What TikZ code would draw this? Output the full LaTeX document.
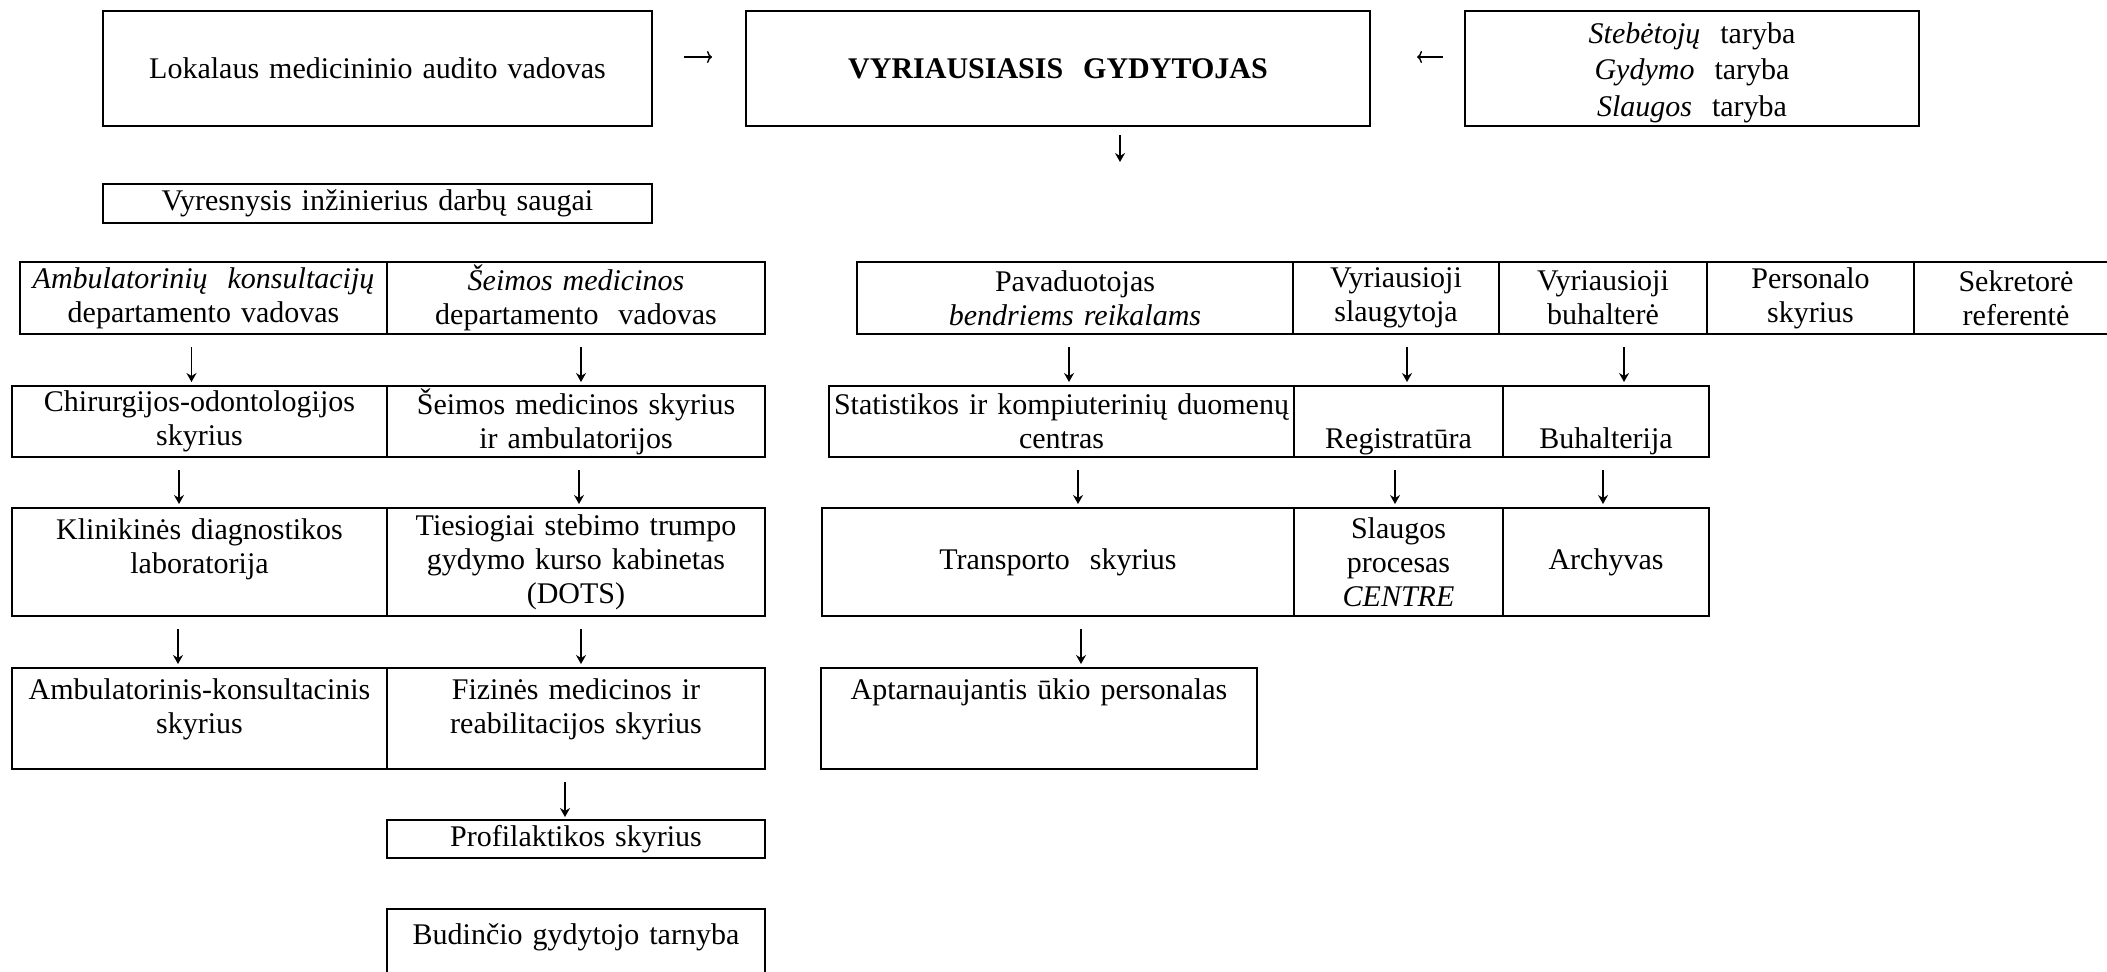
\documentclass[tikz,border=0pt]{standalone}
\usepackage{fontspec}
\setmainfont{Liberation Serif}
\usetikzlibrary{arrows.meta}
\tikzset{
	cell/.style={draw, line width=1pt, inner sep=0pt, align=center, anchor=north west,
		font=\fontsize{15pt}{17pt}\selectfont},
	topcell/.style={text height=#1},
	arr/.style={-{Stealth[length=4.5pt,width=5pt,inset=1.5pt]}, line width=0.8pt,
		shorten <=6pt, shorten >=1.5pt},
	harr/.style={-{To[length=2.5pt,width=6pt]}, line width=0.7pt},
}

\begin{document}
\begin{tikzpicture}[x=0.5pt, y=-0.5pt]
		\useasboundingbox (0,0) rectangle (2107,971);
		\begin{scope}
			\node[cell, text width=274.5pt, minimum height=57.5pt] (lok) at (102,10) {Lokalaus medicininio audito vadovas};
			\node[cell, text width=312pt, minimum height=57.5pt] (vyr) at (745,10) {\textbf{VYRIAUSIASIS\ \ GYDYTOJAS}};
			\node[cell, text width=227pt, topcell=16pt, text depth=41.5pt, font=\fontsize{15pt}{18.25pt}\selectfont] (tar) at (1464,10) {\textit{Stebėtojų}\ \ taryba\\ \textit{Gydymo}\ \ taryba\\ \textit{Slaugos}\ \ taryba};
			\node[cell, text width=274.5pt, minimum height=19.5pt] (vyrs) at (102,183) {Vyresnysis inžinierius darbų saugai};
	
			\draw[harr, shorten <=15.5pt, shorten >=16.5pt] ([yshift=5.75pt]lok.east) to ([yshift=5.75pt]vyr.west);
			\draw[harr, shorten <=10.5pt, shorten >=23pt] ([yshift=5.75pt]tar.west) to ([yshift=5.75pt]vyr.east);
			\coordinate (vyrdn) at ([xshift=31pt,yshift=-17.5pt]vyr.south);
			\draw[arr, shorten <=4pt, shorten >=0pt] ([xshift=31pt]vyr.south) to (vyrdn);
		
			\node[cell, text width=183.5pt, minimum height=36pt] (amb) at (19,261) {\textit{Ambulatorinių\ \ konsultacijų}\\ departamento vadovas};
			\node[cell, text width=189pt, minimum height=36pt] (sei) at (386,261) {\textit{Šeimos medicinos}\\ departamento\ \ vadovas};
			\node[cell, text width=187.5pt, minimum height=35.5pt] (chir) at (11,385) {Chirurgijos-odontologijos\\ skyrius};
			\node[cell, text width=189pt, minimum height=35.5pt] (sms) at (386,385) {Šeimos medicinos skyrius\\ ir ambulatorijos};
			\node[cell, text width=187.5pt, topcell=15.5pt, text depth=38.5pt] (klin) at (11,507) {Klinikinės diagnostikos\\ laboratorija};
			\node[cell, text width=189pt, minimum height=54pt] (dots) at (386,507) {Tiesiogiai stebimo trumpo\\ gydymo kurso kabinetas\\ (DOTS)};
			\node[cell, text width=187.5pt, topcell=15.5pt, text depth=35pt] (ak) at (11,667) {Ambulatorinis-konsultacinis\\ skyrius};
			\node[cell, text width=189pt, topcell=15.5pt, text depth=35pt] (fiz) at (386,667) {Fizinės medicinos ir\\ reabilitacijos skyrius};
			\node[cell, text width=189pt, minimum height=19pt] (prof) at (386,819) {Profilaktikos skyrius};
			\node[cell, text width=189pt, topcell=17.5pt, text depth=19pt] (bud) at (386,908) {Budinčio gydytojo tarnyba};
		
			\draw[arr] ([xshift=-6pt]amb.south) to ([xshift=-6pt]amb.south |- chir.north);
			\draw[arr] ([xshift=2.5pt]sei.south) to ([xshift=2.5pt]sei.south |- sms.north);
			\draw[arr] ([xshift=-10.25pt]chir.south) to ([xshift=-10.25pt]chir.south |- klin.north);
			\draw[arr] ([xshift=1.5pt]sms.south) to ([xshift=1.5pt]sms.south |- dots.north);
			\draw[arr] ([xshift=-10.75pt]klin.south) to ([xshift=-10.75pt]klin.south |- ak.north);
			\draw[arr] ([xshift=2.5pt]dots.south) to ([xshift=2.5pt]dots.south |- fiz.north);
			\draw[arr, shorten >=1pt] ([xshift=-5.5pt]fiz.south) to ([xshift=-5.5pt]fiz.south |- prof.north);
		
			\node[cell, text width=218pt, minimum height=36pt] (pav) at (856,261) {Pavaduotojas\\ \textit{bendriems reikalams}};
			\node[cell, text width=103pt, minimum height=36pt] (vsl) at (1292,261) {Vyriausioji\\ slaugytoja};
			\node[cell, text width=104pt, minimum height=36pt] (vbu) at (1498,261) {Vyriausioji\\ buhalterė};
			\node[cell, text width=103.5pt, minimum height=36pt] (pers) at (1706,261) {Personalo\\ skyrius};
			\node[cell, text width=102pt, minimum height=36pt] (sekr) at (1913,261) {Sekretorė\\ referentė};
			\node[cell, text width=232.5pt, minimum height=35.5pt] (stat) at (828,385) {Statistikos ir kompiuterinių duomenų\\ centras};
			\node[cell, text width=104.5pt, topcell=31pt, text depth=4.5pt] (reg) at (1293,385) {Registratūra};
			\node[cell, text width=103pt, topcell=31pt, text depth=4.5pt] (buh) at (1502,385) {Buhalterija};
			\node[cell, text width=236pt, minimum height=54pt] (tra) at (821,507) {Transporto\ \ skyrius};
			\node[cell, text width=104.5pt, minimum height=54pt] (slp) at (1293,507) {Slaugos\\ procesas\\ \textit{CENTRE}};
			\node[cell, text width=103pt, minimum height=54pt] (arc) at (1502,507) {Archyvas};
			\node[cell, text width=218pt, topcell=15.5pt, text depth=35pt] (apt) at (820,667) {Aptarnaujantis ūkio personalas};
		
			\draw[arr] ([xshift=-3pt]pav.south) to ([xshift=-3pt]pav.south |- stat.north);
			\draw[arr] ([xshift=5.5pt]vsl.south) to ([xshift=5.5pt]vsl.south |- reg.north);
			\draw[arr] ([xshift=10.5pt]vbu.south) to ([xshift=10.5pt]vbu.south |- buh.north);
			\draw[arr] ([xshift=8.25pt]stat.south) to ([xshift=8.25pt]stat.south |- tra.north);
			\draw[arr] ([xshift=-1.75pt]reg.south) to ([xshift=-1.75pt]reg.south |- slp.north);
			\draw[arr] ([xshift=-1.5pt]buh.south) to ([xshift=-1.5pt]buh.south |- arc.north);
			\draw[arr] ([xshift=11.5pt]tra.south) to ([xshift=11.5pt]tra.south |- apt.north);
		\end{scope}
	\end{tikzpicture}
\end{document}
